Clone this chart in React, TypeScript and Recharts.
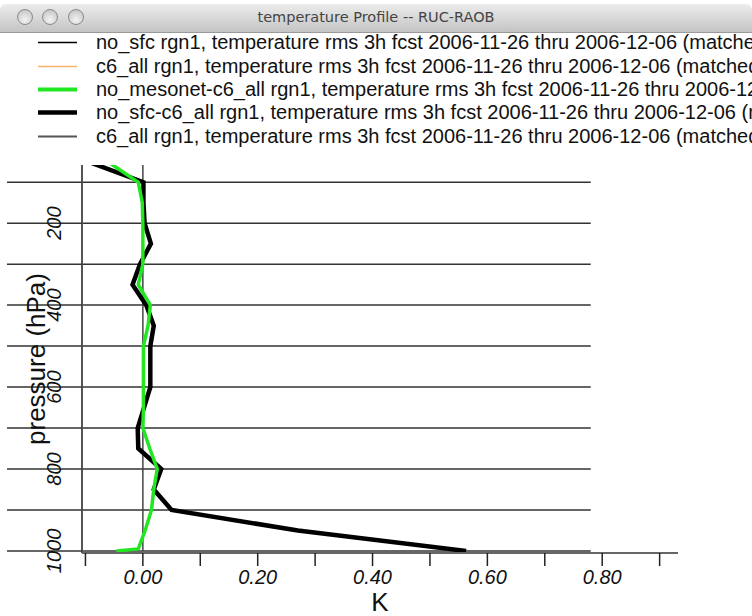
import { LineChart, Line, XAxis, YAxis, ReferenceLine } from "recharts";

// pressure levels (hPa) and K differences
const pressureLevels = [50, 100, 150, 200, 250, 300, 350, 400, 450, 500, 550, 600, 650, 700, 750, 800, 850, 900, 950, 995, 1000];
const noSfcMinusC6 = [-0.095, 0.001, 0.001, 0.003, 0.014, -0.005, -0.018, 0.006, 0.019, 0.013, 0.013, 0.013, 0.002, -0.009, -0.008, 0.032, 0.019, 0.05, 0.27, null, 0.563];
const noMesonetMinusC6 = [-0.061, -0.008, -0.001, 0.0, 0.0, 0.0, -0.008, 0.013, 0.009, 0.001, 0.001, 0.001, 0.001, 0.0, 0.012, 0.025, 0.019, 0.015, 0.004, -0.008, -0.046];

const xTicks = [-0.1, 0, 0.1, 0.2, 0.3, 0.4, 0.5, 0.6, 0.7, 0.8, 0.9];
const xLabelled = [0, 0.2, 0.4, 0.6, 0.8];
const yTicks = [100, 200, 300, 400, 500, 600, 700, 800, 900, 1000];
const yLabelled = [200, 400, 600, 800, 1000];
const xDomain = [-0.106, 0.932];
const yDomain = [58, 1005];
const gridEnd = 0.78;

const legendLabels = [
  "no_sfc rgn1, temperature rms 3h fcst 2006-11-26 thru 2006-12-06 (matched)",
  "c6_all rgn1, temperature rms 3h fcst 2006-11-26 thru 2006-12-06 (matched)",
  "no_mesonet-c6_all rgn1, temperature rms 3h fcst 2006-11-26 thru 2006-12-06 (matched)",
  "no_sfc-c6_all rgn1, temperature rms 3h fcst 2006-11-26 thru 2006-12-06 (matched)",
  "c6_all rgn1, temperature rms 3h fcst 2006-11-26 thru 2006-12-06 (matched)",
];
const legendColors = ["#000000", "#f5b36e", "#22e622", "#000000", "#555555"];
const legendWidths = [1.5, 1.5, 4, 4.5, 2];

const profileData = pressureLevels.map((p, i) => ({
  p,
  noSfc: noSfcMinusC6[i],
  noMesonet: noMesonetMinusC6[i],
}));

const FONT = '"Liberation Sans", Arial, sans-serif';

const PressureTick = (props: any) => {
  const { x, y, payload } = props;
  if (!yLabelled.includes(payload.value)) return <g />;
  const tx = x + 49;
  return (
    <text
      x={tx}
      y={y}
      dy="0.35em"
      textAnchor="middle"
      transform={`rotate(-90 ${tx} ${y})`}
      fontFamily={FONT}
      fontStyle="italic"
      fontSize={20}
      fill="#111"
    >
      {payload.value}
    </text>
  );
};

export default function App() {
  return (
    <div style={{ position: "relative", width: 752, height: 616, background: "#fff", overflow: "hidden" }}>
      <style>{`body{margin:0}`}</style>

      {/* window title bar */}
      <div
        style={{
          position: "absolute",
          left: 0,
          top: 4,
          width: 752,
          height: 28,
          borderRadius: "6px 6px 0 0",
          background: "linear-gradient(#ececec, #c4c4c4)",
          borderBottom: "1px solid #9a9a9a",
          fontFamily: '"DejaVu Sans", sans-serif',
          fontSize: 14.5,
          color: "#444",
          textAlign: "center",
          lineHeight: "27px",
        }}
      >
        temperature Profile -- RUC-RAOB
        {[25, 50, 76].map((cx) => (
          <div
            key={cx}
            style={{
              position: "absolute",
              left: cx - 8,
              top: 5,
              width: 16,
              height: 16,
              borderRadius: "50%",
              background: "radial-gradient(circle at 50% 70%, #f4f4f4, #bdbdbd)",
              border: "1px solid #8a8a8a",
              boxSizing: "border-box",
            }}
          />
        ))}
      </div>

      {/* legend */}
      <div style={{ position: "absolute", left: 0, top: 31, width: 752 }}>
        {legendLabels.map((label, i) => (
          <div key={i} style={{ display: "flex", alignItems: "center", height: 23.4, whiteSpace: "nowrap" }}>
            <svg width={96} height={23} style={{ flex: "none" }}>
              <line x1={38} x2={77} y1={11.5} y2={11.5} stroke={legendColors[i]} strokeWidth={legendWidths[i]} />
            </svg>
            <span style={{ fontFamily: FONT, fontSize: 20, color: "#111" }}>{label}</span>
          </div>
        ))}
      </div>

      <div style={{ position: "absolute", left: 0, top: 0 }}>
        <LineChart
          width={752}
          height={616}
          layout="vertical"
          data={profileData}
          margin={{ top: 165, right: 74, bottom: 0, left: 7 }}
        >
          <XAxis
            type="number"
            dataKey="noSfc"
            domain={xDomain}
            allowDataOverflow
            ticks={xTicks}
            interval={0}
            height={63}
            tickSize={13}
            tickMargin={4}
            axisLine={{ stroke: "#666", strokeWidth: 2 }}
            tickLine={{ stroke: "#222", strokeWidth: 1.5 }}
            tick={{ fontFamily: FONT, fontStyle: "italic", fontSize: 20, fill: "#111" }}
            tickFormatter={(v: number) => (xLabelled.some((l) => Math.abs(l - v) < 1e-9) ? v.toFixed(2) : "")}
            label={{ value: "K", position: "insideBottom", offset: 5, style: { fontFamily: FONT, fontSize: 26, fill: "#111" } }}
          />
          <YAxis
            type="number"
            dataKey="p"
            domain={yDomain}
            allowDataOverflow
            ticks={yTicks}
            interval={0}
            width={75}
            tickSize={75}
            axisLine={{ stroke: "#555", strokeWidth: 2 }}
            tickLine={{ stroke: "#333", strokeWidth: 1.5 }}
            tick={<PressureTick />}
            label={{
              value: "pressure (hPa)",
              angle: -90,
              position: "insideLeft",
              offset: 29,
              style: { textAnchor: "middle", fontFamily: FONT, fontSize: 26, fill: "#111" },
            }}
          />
          {yTicks.map((p) => (
            <ReferenceLine
              key={p}
              segment={[{ x: xDomain[0], y: p }, { x: gridEnd, y: p }]}
              stroke={p === 1000 ? "#666" : "#333"}
              strokeWidth={p === 1000 ? 2 : 1.5}
            />
          ))}
          <ReferenceLine segment={[{ x: 0, y: yDomain[0] }, { x: 0, y: 1000 }]} stroke="#444" strokeWidth={1.5} />
          <Line
            dataKey="noSfc"
            stroke="#000"
            strokeWidth={4.5}
            strokeLinejoin="miter"
            dot={false}
            connectNulls
            isAnimationActive={false}
          />
          <Line
            dataKey="noMesonet"
            stroke="#22e622"
            strokeWidth={3.5}
            strokeLinejoin="miter"
            dot={false}
            connectNulls
            isAnimationActive={false}
          />
        </LineChart>
      </div>
    </div>
  );
}
